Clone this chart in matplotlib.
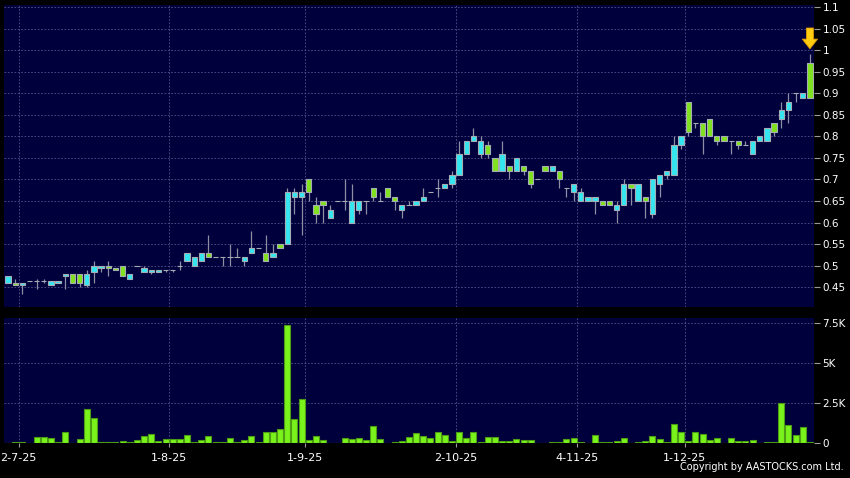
import numpy as np
import matplotlib
matplotlib.use("Agg")
import matplotlib.pyplot as plt

# OHLC daily candles
opens = [0.46, 0.46, 0.455, 0.465, 0.465, 0.465, 0.455, 0.46, 0.475, 0.48,
         0.48, 0.455, 0.485, 0.495, 0.50, 0.495, 0.50, 0.47, 0.50, 0.485,
         0.485, 0.485, 0.49, 0.49, 0.50, 0.51, 0.50, 0.51, 0.53, 0.52,
         0.52, 0.52, 0.52, 0.51, 0.53, 0.54, 0.53, 0.52, 0.55, 0.55,
         0.66, 0.66, 0.70, 0.64, 0.65, 0.61, 0.65, 0.65, 0.60, 0.63,
         0.65, 0.68, 0.65, 0.68, 0.66, 0.63, 0.64, 0.64, 0.65, 0.67,
         0.68, 0.68, 0.69, 0.71, 0.76, 0.79, 0.76, 0.78, 0.75, 0.72,
         0.73, 0.72, 0.73, 0.72, 0.70, 0.73, 0.72, 0.72, 0.68, 0.67,
         0.65, 0.65, 0.65, 0.65, 0.65, 0.63, 0.64, 0.69, 0.65, 0.66,
         0.62, 0.69, 0.71, 0.71, 0.78, 0.88, 0.83, 0.83, 0.84, 0.80,
         0.80, 0.79, 0.79, 0.78, 0.76, 0.79, 0.79, 0.83, 0.84, 0.86,
         0.90, 0.89, 0.97]
highs = [0.475, 0.47, 0.46, 0.465, 0.47, 0.47, 0.465, 0.465, 0.48, 0.48,
         0.48, 0.49, 0.51, 0.50, 0.51, 0.495, 0.50, 0.48, 0.50, 0.50,
         0.49, 0.49, 0.49, 0.49, 0.51, 0.53, 0.52, 0.53, 0.57, 0.52,
         0.52, 0.55, 0.54, 0.52, 0.58, 0.54, 0.57, 0.55, 0.55, 0.68,
         0.68, 0.69, 0.70, 0.66, 0.65, 0.64, 0.65, 0.70, 0.69, 0.65,
         0.65, 0.68, 0.67, 0.68, 0.66, 0.64, 0.65, 0.65, 0.68, 0.67,
         0.70, 0.69, 0.72, 0.79, 0.79, 0.82, 0.80, 0.79, 0.75, 0.79,
         0.73, 0.75, 0.73, 0.72, 0.70, 0.73, 0.73, 0.72, 0.68, 0.69,
         0.68, 0.66, 0.66, 0.65, 0.65, 0.65, 0.70, 0.69, 0.69, 0.66,
         0.70, 0.71, 0.72, 0.80, 0.80, 0.88, 0.83, 0.83, 0.84, 0.80,
         0.80, 0.79, 0.79, 0.79, 0.79, 0.80, 0.82, 0.83, 0.88, 0.90,
         0.90, 0.90, 0.99]
lows = [0.46, 0.455, 0.435, 0.465, 0.445, 0.46, 0.455, 0.46, 0.445, 0.46,
        0.45, 0.45, 0.46, 0.485, 0.475, 0.49, 0.475, 0.47, 0.50, 0.485,
        0.48, 0.485, 0.485, 0.485, 0.49, 0.51, 0.50, 0.51, 0.52, 0.52,
        0.50, 0.50, 0.52, 0.50, 0.53, 0.54, 0.51, 0.52, 0.54, 0.55,
        0.62, 0.57, 0.65, 0.60, 0.60, 0.61, 0.65, 0.63, 0.60, 0.62,
        0.62, 0.65, 0.65, 0.66, 0.63, 0.61, 0.64, 0.64, 0.65, 0.67,
        0.66, 0.68, 0.68, 0.71, 0.76, 0.79, 0.75, 0.75, 0.72, 0.72,
        0.70, 0.72, 0.71, 0.68, 0.70, 0.72, 0.72, 0.68, 0.66, 0.65,
        0.65, 0.65, 0.62, 0.64, 0.64, 0.60, 0.64, 0.64, 0.65, 0.61,
        0.61, 0.66, 0.70, 0.71, 0.77, 0.80, 0.82, 0.76, 0.80, 0.78,
        0.79, 0.76, 0.77, 0.78, 0.76, 0.79, 0.79, 0.80, 0.82, 0.83,
        0.88, 0.89, 0.89]
closes = [0.475, 0.455, 0.46, 0.465, 0.465, 0.465, 0.465, 0.465, 0.48, 0.46,
          0.46, 0.48, 0.50, 0.50, 0.495, 0.49, 0.475, 0.48, 0.50, 0.495,
          0.49, 0.49, 0.49, 0.49, 0.50, 0.53, 0.52, 0.53, 0.52, 0.52,
          0.52, 0.52, 0.52, 0.52, 0.54, 0.54, 0.51, 0.53, 0.54, 0.67,
          0.67, 0.67, 0.67, 0.62, 0.64, 0.63, 0.65, 0.65, 0.65, 0.65,
          0.65, 0.66, 0.65, 0.66, 0.65, 0.64, 0.64, 0.65, 0.66, 0.67,
          0.68, 0.69, 0.71, 0.76, 0.79, 0.80, 0.79, 0.76, 0.72, 0.76,
          0.72, 0.75, 0.72, 0.69, 0.70, 0.72, 0.73, 0.70, 0.68, 0.69,
          0.67, 0.66, 0.66, 0.64, 0.64, 0.64, 0.69, 0.68, 0.69, 0.65,
          0.70, 0.71, 0.72, 0.78, 0.80, 0.81, 0.83, 0.80, 0.80, 0.79,
          0.79, 0.79, 0.78, 0.78, 0.79, 0.80, 0.82, 0.81, 0.86, 0.88,
          0.90, 0.90, 0.89]
volumes = [20, 60, 50, 10, 380, 380, 290, 80, 690, 10,
           270, 2120, 1560, 80, 80, 80, 150, 40, 210, 440,
           560, 125, 270, 230, 270, 500, 60, 190, 460, 80,
           80, 310, 80, 190, 460, 60, 690, 710, 850, 7350,
           1500, 2720, 200, 420, 200, 20, 20, 330, 250, 290,
           200, 1080, 250, 20, 70, 150, 360, 640, 430, 310,
           700, 500, 140, 690, 290, 690, 70, 400, 400, 100,
           140, 230, 170, 170, 10, 10, 60, 60, 230, 330,
           40, 10, 520, 60, 60, 140, 310, 10, 40, 140,
           460, 250, 60, 1180, 660, 140, 680, 540, 210, 310,
           10, 330, 140, 140, 210, 10, 60, 60, 2500, 1140,
           480, 990, 60]

# first trading day of each labelled month (candle index) and its label
month_start = [2, 23, 42, 63, 80, 95]
month_labels = ["2-7-25", "1-8-25", "1-9-25", "2-10-25", "4-11-25", "1-12-25"]

price_ticks = np.round(np.arange(0.45, 1.1001, 0.05), 2)
vol_ticks = [0, 2500, 5000, 7500]
vol_labels = ["0", "2.5K", "5K", "7.5K"]

BG = "#00003c"
CYAN = "#33e6f0"
GREEN = "#80e21e"
VOLG = "#7af21c"
GRID = "#54548a"
WICK = "#8e8ea4"

o = np.array(opens); h = np.array(highs); l = np.array(lows); c = np.array(closes)
x = np.arange(len(o))

fig = plt.figure(figsize=(8.5, 4.78), dpi=100, facecolor="black")
ax = fig.add_axes([4/850, 1-307/478, 810/850, 302/478], facecolor=BG)
axv = fig.add_axes([4/850, 1-443/478, 810/850, 125/478], facecolor=BG)

# candles
colors = np.where(c > o, CYAN, np.where(c < o, GREEN, WICK))
ax.vlines(x, l, h, color=WICK, lw=0.9, zorder=2)
ax.bar(x, np.abs(c - o), bottom=np.minimum(o, c), width=0.74,
       color=colors, edgecolor="#a6acb4", linewidth=0.8, zorder=3)

# latest marker arrow
ax.annotate("", xy=(x[-1], h[-1]), xytext=(0, 19), textcoords="offset points",
            arrowprops=dict(arrowstyle="simple,head_length=0.7,head_width=1.1,tail_width=0.5",
                            fc="#ffcc10", ec="#e09a00", lw=0.6, shrinkA=0, shrinkB=4),
            zorder=5)

# volume
axv.bar(x, volumes, width=0.84, color=VOLG, edgecolor="#4c9c14", linewidth=0.8, zorder=3)

xlim = (-0.56, len(x) - 1 + 0.57)
grid_x = [m - 0.5 for m in month_start]
for a in (ax, axv):
    a.set_xlim(*xlim)
    for s in a.spines.values():
        s.set_visible(False)
    a.set_xticks(grid_x)
    a.grid(True, color=GRID, lw=0.6, linestyle=(0, (2, 2)), zorder=0)
    a.yaxis.tick_right()
    a.tick_params(axis="y", colors="#9a9aa0", labelcolor="white", length=4,
                  width=0.8, pad=2, labelsize=7.5)

ax.set_ylim(0.404, 1.1046)
ax.set_yticks(price_ticks)
ax.set_yticklabels(["%g" % t for t in price_ticks])
ax.tick_params(axis="x", bottom=False, labelbottom=False)

axv.set_ylim(0, 7790)
axv.set_yticks(vol_ticks)
axv.set_yticklabels(vol_labels)
axv.set_xticklabels(month_labels)
axv.tick_params(axis="x", colors="#9a9aa0", labelcolor="white", length=3,
                width=0.8, pad=4, labelsize=8)

fig.text(0.993, 0.012, "Copyright by AASTOCKS.com Ltd.", ha="right", va="bottom",
         color="white", fontsize=7)

fig.savefig("out.png", dpi=100, facecolor="black")
